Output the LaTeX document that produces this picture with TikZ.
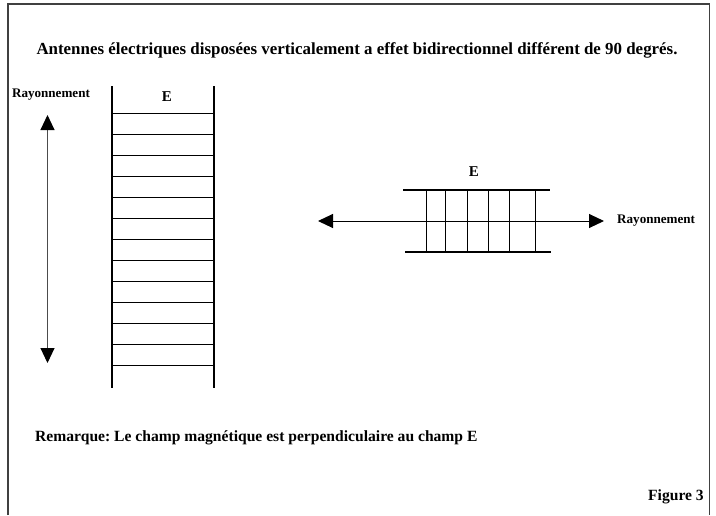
\documentclass[tikz,border=0pt]{standalone}
\usepackage{fontspec}
\setmainfont{Liberation Serif}
\usetikzlibrary{positioning,arrows.meta}
\frenchspacing

\begin{document}
\begin{tikzpicture}[x=1pt,y=-1pt,
                    >={Triangle[length=15pt,width=14pt,black]},
                    rail/.style={line width=2.8pt},
                    rung/.style={line width=0.9pt},
                    axe/.style={line width=1pt,<->},
                    titre/.style={font=\bfseries\fontsize{16.9}{19}\selectfont},
                    remarque/.style={font=\bfseries\fontsize{15.6}{18}\selectfont},
                    etiq/.style={font=\bfseries\fontsize{13.1}{15}\selectfont},
                    champ/.style={font=\bfseries\fontsize{15}{17}\selectfont}]
    \useasboundingbox (0,0) rectangle (716,515);

    %Frame
    \draw[line width=1.5pt,black!75] (8,515) -- (8,4) -- (709.5,4) -- (709.5,515);

    %Texts
    \node[titre] (titre) at (357,50) {Antennes électriques disposées verticalement a effet bidirectionnel différent de 90 degrés.};
    \node[etiq] (rayV) at (51,95) {Rayonnement};
    \node[champ] (EV) at (167,97) {E};
    \node[champ] (EH) at (474,172) {E};
    \node[etiq,anchor=west,inner sep=0pt] (rayH) at (617,221) {Rayonnement};
    \node[remarque,anchor=west,inner sep=0pt] (remarque) at (35,438) {Remarque: Le champ magnétique est perpendiculaire au champ E};
    \node[remarque,anchor=east,inner sep=0pt] (figure) at (704,497) {Figure 3};

    %Vertical antenna
    \coordinate (vg1) at (112,86);
    \coordinate (vg2) at (112,388);
    \coordinate (vd1) at (214,86);
    \coordinate (vd2) at (214,388);
    \draw[rail] (vg1) -- (vg2);
    \draw[rail] (vd1) -- (vd2);
    \foreach \y in {113,134,...,365}
        \draw[rung] (112,\y) -- (214,\y);

    %Horizontal antenna
    \coordinate (hh1) at (403,190);
    \coordinate (hh2) at (550,190);
    \coordinate (hb1) at (405,252);
    \coordinate (hb2) at (551,252);
    \draw[rail] (hh1) -- (hh2);
    \draw[rail] (hb1) -- (hb2);
    \foreach \x in {426,445,467,488,509,535}
        \draw[rung] (\x,190) -- (\x,252);

    %Arrows
    \coordinate (fv1) at (47.5,115);
    \coordinate (fv2) at (47.5,363);
    \coordinate (fh1) at (318,221);
    \coordinate (fh2) at (604,221);
    \draw[axe,black!70] (fv1) -- (fv2);
    \draw[axe] (fh1) -- (fh2);
\end{tikzpicture}
\end{document}
